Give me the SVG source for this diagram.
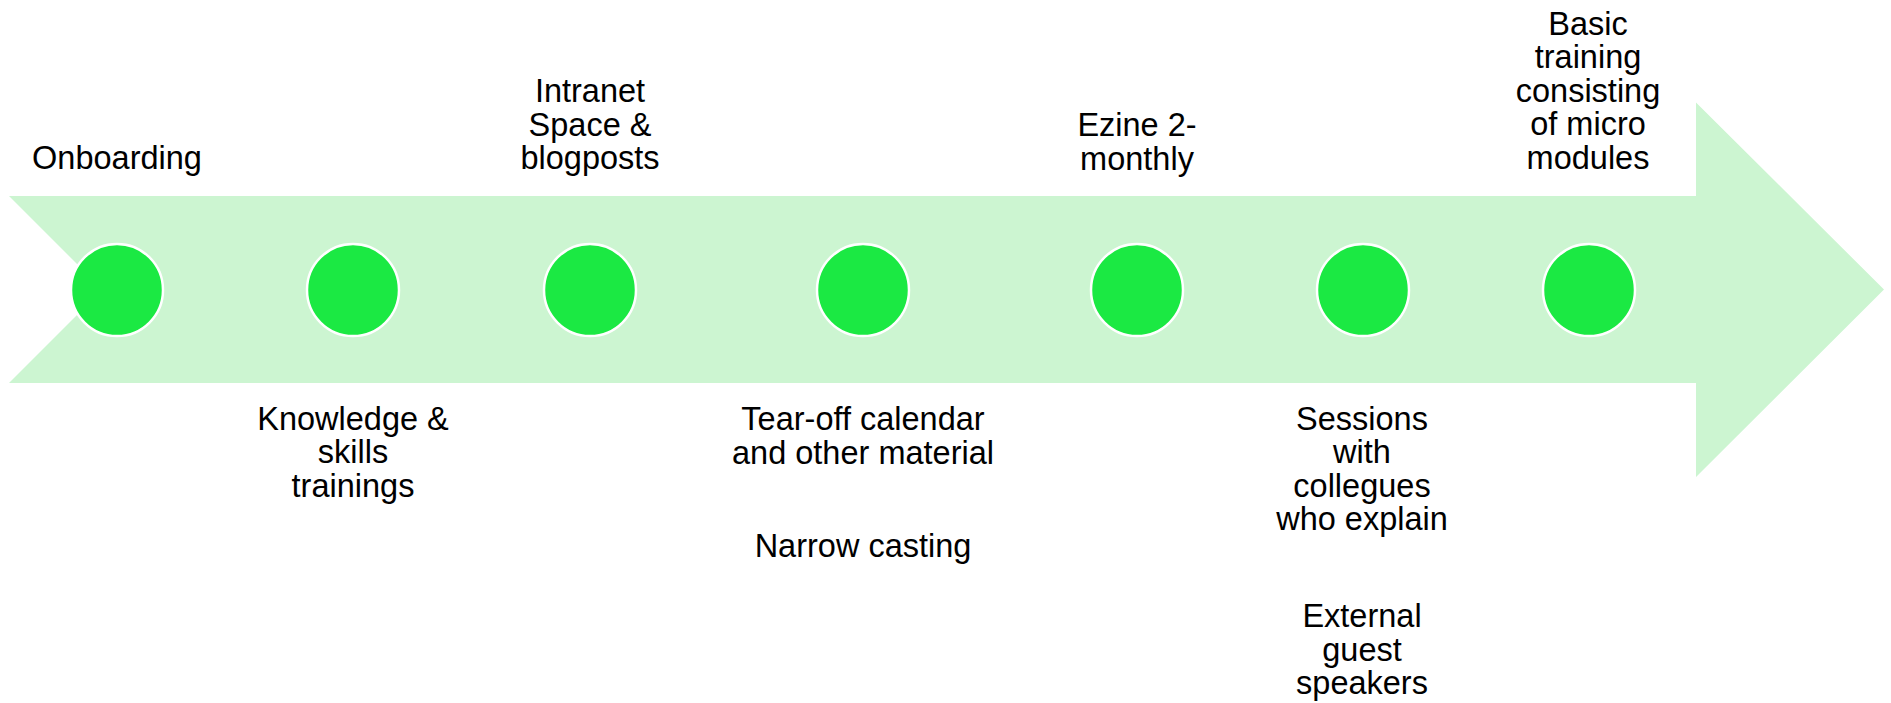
<svg xmlns="http://www.w3.org/2000/svg" width="1891" height="703" viewBox="0 0 1891 703">
<style>
.lbl{font-family:"Liberation Sans",Arial,sans-serif;font-size:32.5px;fill:#000;text-anchor:middle}
.dot{fill:#1BE943;stroke:#fff;stroke-width:2.5}
</style>
<rect width="1891" height="703" fill="#fff"/>
<g id="arrow">
<path d="M9 196 L1696 196 L1696 102.5 L1884 289.5 L1696 477 L1696 383 L9 383 L102.5 289.5 Z" fill="#CCF5D1"/>
</g>
<g id="connectors"></g>
<g id="n1"><circle class="dot" cx="117" cy="290" r="46"/>
<text class="lbl" x="117" y="169">Onboarding</text></g>
<g id="n2"><circle class="dot" cx="353" cy="290" r="46"/>
<text class="lbl" x="353" y="429.5">Knowledge &amp;</text>
<text class="lbl" x="353" y="463">skills</text>
<text class="lbl" x="353" y="496.5">trainings</text></g>
<g id="n3"><circle class="dot" cx="590" cy="290" r="46"/>
<text class="lbl" x="590" y="102">Intranet</text>
<text class="lbl" x="590" y="135.5">Space &amp;</text>
<text class="lbl" x="590" y="169">blogposts</text></g>
<g id="n4"><circle class="dot" cx="863" cy="290" r="46"/>
<text class="lbl" x="863" y="430">Tear-off calendar</text>
<text class="lbl" x="863" y="463.5">and other material</text>
<text class="lbl" x="863" y="556.5">Narrow casting</text></g>
<g id="n5"><circle class="dot" cx="1137" cy="290" r="46"/>
<text class="lbl" x="1137" y="136">Ezine 2-</text>
<text class="lbl" x="1137" y="169.5">monthly</text></g>
<g id="n6"><circle class="dot" cx="1363" cy="290" r="46"/>
<text class="lbl" x="1362" y="429.5">Sessions</text>
<text class="lbl" x="1362" y="463">with</text>
<text class="lbl" x="1362" y="496.5">collegues</text>
<text class="lbl" x="1362" y="530">who explain</text>
<text class="lbl" x="1362" y="627">External</text>
<text class="lbl" x="1362" y="660.5">guest</text>
<text class="lbl" x="1362" y="694">speakers</text></g>
<g id="n7"><circle class="dot" cx="1589" cy="290" r="46"/>
<text class="lbl" x="1588" y="34.5">Basic</text>
<text class="lbl" x="1588" y="68">training</text>
<text class="lbl" x="1588" y="101.5">consisting</text>
<text class="lbl" x="1588" y="135">of micro</text>
<text class="lbl" x="1588" y="168.5">modules</text></g>
</svg>
